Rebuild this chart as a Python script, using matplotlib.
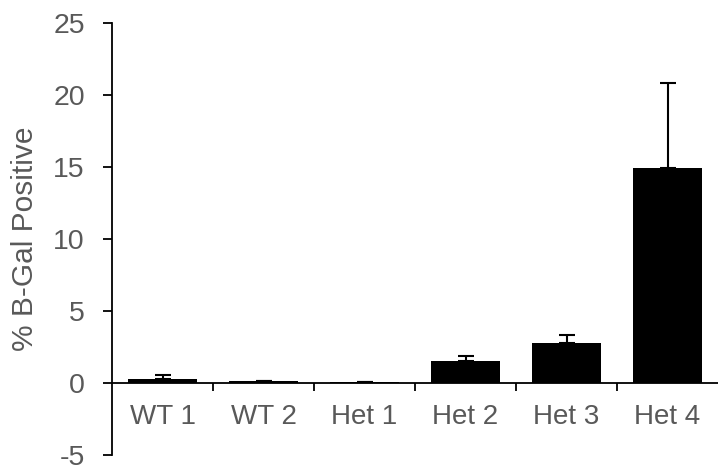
import matplotlib.pyplot as plt
import numpy as np

groups = ['WT 1', 'WT 2', 'Het 1', 'Het 2', 'Het 3', 'Het 4']
pct_positive = [0.25, 0.12, 0.05, 1.55, 2.75, 14.9]
err_upper = [0.3, 0.03, 0.03, 0.32, 0.55, 5.95]
y_ticks = [-5, 0, 5, 10, 15, 20, 25]

plt.rcParams['font.family'] = ['Liberation Sans', 'DejaVu Sans']
text_grey = '#595959'


def main():
    fig = plt.figure(figsize=(7.18, 4.72), dpi=100)
    ax = fig.add_axes([112 / 718, 1 - 455 / 472, 606 / 718, 432 / 472])

    x = np.arange(len(groups))
    ax.bar(x, pct_positive, width=0.68, color='black', zorder=2)
    # only the upper half of each error bar is shown
    ax.errorbar(x, pct_positive, yerr=[np.zeros(len(x)), err_upper], fmt='none',
                ecolor='black', elinewidth=1.5, capsize=6, capthick=1.5, zorder=3)

    ax.set_xlim(-0.5, len(groups) - 0.5)
    ax.set_ylim(-5, 25)
    ax.set_yticks(y_ticks)
    ax.set_yticklabels([str(t) for t in y_ticks])

    ax.spines['top'].set_visible(False)
    ax.spines['right'].set_visible(False)
    ax.spines['bottom'].set_position(('data', 0))
    ax.spines['left'].set_linewidth(1.3)
    ax.spines['bottom'].set_linewidth(1.3)

    ax.set_xticks(x)
    ax.set_xticklabels(groups)
    ax.set_xticks(np.arange(0.5, len(groups) - 0.5), minor=True)
    ax.tick_params(axis='x', which='major', length=0, pad=15, labelsize=20,
                   labelcolor=text_grey)
    ax.tick_params(axis='x', which='minor', length=6, width=1.3, direction='out')
    ax.tick_params(axis='y', length=6.5, width=1.3, direction='out', pad=13,
                   labelsize=20.5, labelcolor=text_grey)

    ax.set_ylabel('% B-Gal Positive', fontsize=21.5, color=text_grey, labelpad=10)

    fig.savefig('out.png', dpi=100)


if __name__ == '__main__':
    main()
